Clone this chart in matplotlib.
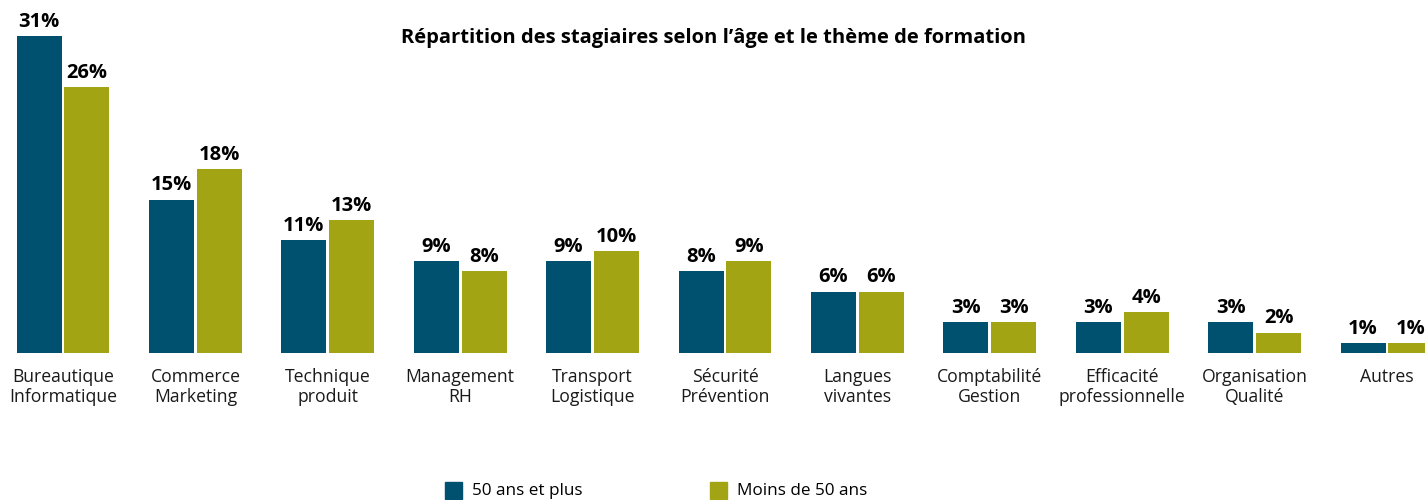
import numpy as np
import matplotlib.pyplot as plt
from matplotlib.patches import Rectangle

categories = ['Bureautique\nInformatique', 'Commerce\nMarketing', 'Technique\nproduit',
              'Management\nRH', 'Transport\nLogistique', 'Sécurité\nPrévention',
              'Langues\nvivantes', 'Comptabilité\nGestion', 'Efficacité\nprofessionnelle',
              'Organisation\nQualité', 'Autres']
plus_50 = [31, 15, 11, 9, 9, 8, 6, 3, 3, 3, 1]
moins_50 = [26, 18, 13, 8, 10, 9, 6, 3, 4, 2, 1]
series_names = ['50 ans et plus', 'Moins de 50 ans']

blue = '#00506f'
green = '#a2a414'

plt.rcParams['font.family'] = ['Open Sans', 'DejaVu Sans']

fig = plt.figure(figsize=(14.25, 5), dpi=100)
ax = fig.add_axes([0, 0.294, 1, 0.706])

x = np.arange(len(categories))
w = 0.34
off = 0.181
b1 = ax.bar(x - off, plus_50, w, color=blue)
b2 = ax.bar(x + off, moins_50, w, color=green)

for bars, vals in [(b1, plus_50), (b2, moins_50)]:
    for r, v in zip(bars, vals):
        ax.annotate('{}%'.format(v), (r.get_x() + r.get_width() / 2, v),
                    xytext=(0, 3), textcoords='offset points',
                    ha='center', va='bottom', fontsize=14.5, fontweight='bold')

for i, c in enumerate(categories):
    ax.annotate(c, (i, 0), xytext=(0, -11), textcoords='offset points',
                ha='center', va='top', fontsize=12.7, linespacing=1.12,
                color='#1a1a1a')

ax.set_xlim(-63 / 132.4, (1425 - 63) / 132.4)
ax.set_ylim(0, 34.5)
ax.axis('off')

fig.text(0.501, 0.924, 'Répartition des stagiaires selon l\u2019âge et le thème de formation',
         ha='center', va='center', fontsize=14.5, fontweight='bold')

# legende
for px, col, name in [(445, blue, series_names[0]), (710, green, series_names[1])]:
    fig.patches.append(Rectangle((px / 1425, 1 / 500), 17 / 1425, 17 / 500,
                                 transform=fig.transFigure, color=col))
    fig.text((px + 27) / 1425, 9 / 500, name, ha='left', va='center', fontsize=12.3)

fig.savefig('out.png', dpi=100)
